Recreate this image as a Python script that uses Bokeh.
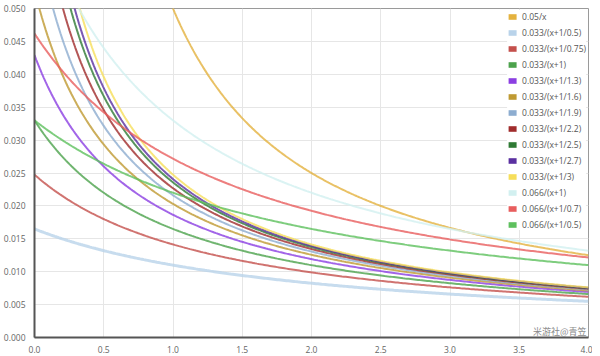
import numpy as np
from bokeh.plotting import figure
from bokeh.models import Legend, LegendItem, Label, Range1d
from bokeh.embed import file_html
from bokeh.resources import INLINE

# Series: value = numerator / (x + offset)
labels = ["0.05/x", "0.033/(x+1/0.5)", "0.033/(x+1/0.75)", "0.033/(x+1)",
          "0.033/(x+1/1.3)", "0.033/(x+1/1.6)", "0.033/(x+1/1.9)", "0.033/(x+1/2.2)",
          "0.033/(x+1/2.5)", "0.033/(x+1/2.7)", "0.033/(x+1/3)", "0.066/(x+1)",
          "0.066/(x+1/0.7)", "0.066/(x+1/0.5)"]
numerators = [0.05, 0.033, 0.033, 0.033, 0.033, 0.033, 0.033, 0.033,
              0.033, 0.033, 0.033, 0.066, 0.066, 0.066]
offsets = [0.0, 1/0.5, 1/0.75, 1.0, 1/1.3, 1/1.6, 1/1.9, 1/2.2,
           1/2.5, 1/2.7, 1/3, 1.0, 1/0.7, 1/0.5]
x_start = [0.9] + [0.0] * 13
x_end = 4.0
x_ticks = [0.0, 0.5, 1.0, 1.5, 2.0, 2.5, 3.0, 3.5, 4.0]
y_ticks = [0.000, 0.005, 0.010, 0.015, 0.020, 0.025, 0.030, 0.035, 0.040, 0.045, 0.050]
watermark = "米游社@青笠"

colors = ["#e4b23e", "#b9d3ea", "#c4504c", "#4ca24c", "#8b3fe2", "#bf9a32",
          "#8dadd0", "#a02c2c", "#2f7a34", "#5a30a0", "#f6de5a", "#d2f0f0",
          "#e85e5e", "#5ec05e"]
widths = [2, 3, 2, 2, 2, 2, 2, 2, 2, 2, 2, 2, 2, 2]

FONT = "Open Sans"

p = figure(width=592, height=355, output_backend="svg", toolbar_location=None,
           x_range=Range1d(0, 4), y_range=Range1d(0, 0.05),
           min_border_left=26, min_border_right=4, min_border_top=8, min_border_bottom=0)
p.background_fill_color = "white"
p.border_fill_color = "white"
p.outline_line_color = "#9a9a9a"
p.outline_line_width = 1

p.xaxis.ticker = x_ticks
p.yaxis.ticker = y_ticks
p.xaxis.major_label_overrides = {v: f"{v:.1f}" for v in x_ticks}
p.yaxis.major_label_overrides = {v: f"{v:.3f}" for v in y_ticks}
for ax in (p.xaxis, p.yaxis):
    ax.axis_line_color = "#555555"
    ax.axis_line_width = 2
    ax.major_tick_line_color = None
    ax.minor_tick_line_color = None
    ax.major_label_text_font = FONT
    ax.major_label_text_font_size = "8.5px"
    ax.major_label_text_color = "#666666"
    ax.major_label_standoff = 3
p.xaxis.major_label_standoff = 2
p.xgrid.grid_line_color = "#e6e6e6"
p.ygrid.grid_line_color = "#e6e6e6"

items = []
for i in range(len(labels)):
    xs = np.linspace(x_start[i], x_end, 300)
    ys = numerators[i] / (xs + offsets[i])
    p.line(xs, ys, line_color=colors[i], line_width=widths[i], line_alpha=0.8)
    r = p.quad(left=[np.nan], right=[np.nan], bottom=[np.nan], top=[np.nan],
               fill_color=colors[i], line_color=None)
    items.append(LegendItem(label=labels[i], renderers=[r]))

legend = Legend(items=items, location="top_right", margin=2, padding=4,
                spacing=4, label_height=12, glyph_height=7, glyph_width=10,
                label_standoff=5, border_line_color=None,
                background_fill_color="white", background_fill_alpha=1.0,
                label_text_font=FONT, label_text_font_size="8.5px",
                label_text_color="#555555")
p.add_layout(legend)

wm = Label(x=3.985, y=0.0009, text=watermark, text_align="right",
           text_baseline="middle", text_font="Noto Sans CJK SC",
           text_font_size="9px", text_color="#8a8a8a")
p.add_layout(wm)

open("out.html", "w").write(file_html(p, INLINE))
